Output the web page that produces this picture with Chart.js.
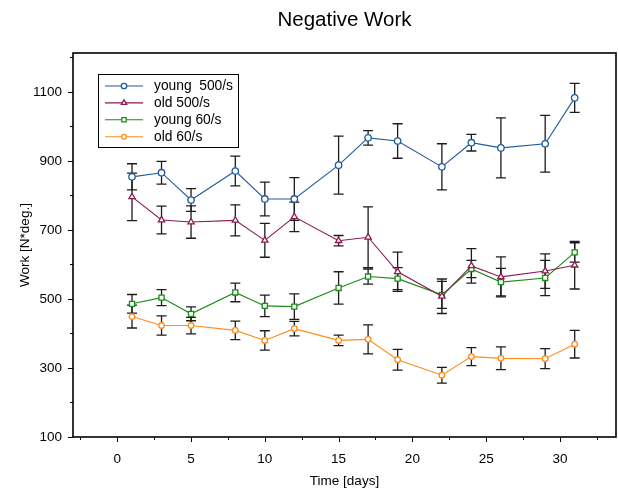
<!DOCTYPE html>
<html>
<head>
<meta charset="utf-8">
<script src="https://cdn.jsdelivr.net/npm/chart.js@4/dist/chart.umd.min.js"></script>
<style>
  html, body { margin: 0; padding: 0; background: #fff; }
  #wrap { width: 618px; height: 489px; }
</style>
</head>
<body>
<div id="wrap"><canvas id="c" width="618" height="489"></canvas></div>
<script>
const days = [1, 3, 5, 8, 10, 12, 15, 17, 19, 22, 24, 26, 29, 31];
const young500 = [854, 866, 787, 871, 790, 790, 888, 967, 958, 883, 953, 938, 950, 1083];
const young500Err = [38, 33, 33, 43, 49, 62, 84, 21, 50, 67, 24, 87, 82, 42];
const old500 = [796, 729, 723, 728, 670, 738, 669, 679, 579, 508, 596, 564, 581, 598];
const old500Err = [69, 40, 47, 45, 49, 43, 15, 88, 57, 50, 50, 58, 50, 69];
const young60 = [486, 504, 457, 519, 480, 478, 532, 565, 559, 512, 587, 549, 561, 635];
const young60Err = [27, 23, 20, 27, 31, 37, 47, 22, 32, 39, 25, 40, 51, 28];
const old60 = [449, 423, 423, 409, 380, 414, 380, 383, 324, 279, 333, 328, 327, 369];
const old60Err = [33, 28, 24, 27, 28, 21, 15, 42, 30, 23, 26, 33, 29, 40];

const seriesLabels = ['young  500/s', 'old 500/s', 'young 60/s', 'old 60/s'];
const xMajorTicks = [0, 5, 10, 15, 20, 25, 30];
const xMinorTicks = [-2.5, 2.5, 7.5, 12.5, 17.5, 22.5, 27.5, 32.5];
const yMajorTicks = [100, 300, 500, 700, 900, 1100];
const yMinorTicks = [200, 400, 600, 800, 1000, 1200];

const seriesValues = [young500, old500, young60, old60];
const seriesErrors = [young500Err, old500Err, young60Err, old60Err];
const seriesColors = ['#1f5c9e', '#8c1a52', '#1a8c1a', '#ff8c1a'];
const seriesStyles = ['circle', 'triangle', 'rect', 'circle'];
const seriesRadius = [3.2, 3.6, 3.6, 2.8];

const FONT = '"Liberation Sans", Arial, Helvetica, sans-serif';

const datasets = seriesValues.map((vals, i) => ({
  label: seriesLabels[i],
  data: days.map((d, j) => ({ x: d, y: vals[j] })),
  borderColor: seriesColors[i],
  backgroundColor: seriesColors[i],
  borderWidth: 1.1,
  pointStyle: seriesStyles[i],
  pointRadius: seriesRadius[i],
  pointBorderWidth: 1.3,
  pointBackgroundColor: '#ffffff',
  pointBorderColor: seriesColors[i],
  tension: 0
}));

const errorBars = {
  id: 'errorBars',
  beforeDatasetsDraw(chart) {
    const { ctx, scales: { x, y } } = chart;
    ctx.save();
    ctx.strokeStyle = '#1c1c1c';
    ctx.lineWidth = 1.3;
    chart.data.datasets.forEach((ds, i) => {
      const errs = seriesErrors[i];
      ds.data.forEach((p, j) => {
        const px = x.getPixelForValue(p.x);
        const top = y.getPixelForValue(p.y + errs[j]);
        const bot = y.getPixelForValue(p.y - errs[j]);
        ctx.beginPath();
        ctx.moveTo(px, top); ctx.lineTo(px, bot);
        ctx.moveTo(px - 5, top); ctx.lineTo(px + 5, top);
        ctx.moveTo(px - 5, bot); ctx.lineTo(px + 5, bot);
        ctx.stroke();
      });
    });
    ctx.restore();
  }
};

const frameTicks = {
  id: 'frameTicks',
  afterDatasetsDraw(chart) {
    const { ctx, chartArea: a, scales: { x, y } } = chart;
    ctx.save();
    ctx.strokeStyle = '#000';
    ctx.lineWidth = 1;
    ctx.beginPath();
    xMajorTicks.forEach(v => { const px = Math.round(x.getPixelForValue(v)) + 0.5; ctx.moveTo(px, a.bottom); ctx.lineTo(px, a.bottom + 5); });
    xMinorTicks.forEach(v => { const px = Math.round(x.getPixelForValue(v)) + 0.5; ctx.moveTo(px, a.bottom); ctx.lineTo(px, a.bottom + 3); });
    yMajorTicks.forEach(v => { const py = Math.round(y.getPixelForValue(v)) + 0.5; ctx.moveTo(a.left, py); ctx.lineTo(a.left - 5, py); });
    yMinorTicks.forEach(v => { const py = Math.round(y.getPixelForValue(v)) + 0.5; ctx.moveTo(a.left, py); ctx.lineTo(a.left - 3, py); });
    ctx.stroke();
    ctx.lineWidth = 1.6;
    ctx.strokeRect(a.left, a.top, a.right - a.left, a.bottom - a.top);
    ctx.restore();
  }
};

const boxLegend = {
  id: 'boxLegend',
  afterDatasetsDraw(chart) {
    const { ctx, chartArea: a } = chart;
    const bx = a.left + 25, by = a.top + 21, bw = 140, bh = 73;
    ctx.save();
    ctx.fillStyle = '#fff';
    ctx.fillRect(bx, by, bw, bh);
    ctx.strokeStyle = '#000';
    ctx.lineWidth = 1;
    ctx.strokeRect(bx + 0.5, by + 0.5, bw, bh);
    chart.data.datasets.forEach((ds, i) => {
      const ry = by + 12 + i * 16.9;
      ctx.strokeStyle = ds.borderColor;
      ctx.lineWidth = 1.1;
      ctx.beginPath();
      ctx.moveTo(bx + 7, ry); ctx.lineTo(bx + 45, ry);
      ctx.stroke();
      ctx.fillStyle = '#fff';
      ctx.strokeStyle = ds.pointBorderColor;
      ctx.lineWidth = 1.3;
      Chart.helpers.drawPoint(ctx, { pointStyle: ds.pointStyle, radius: ds.pointRadius * 0.85, rotation: 0, borderWidth: 1.3 }, bx + 26, ry);
      ctx.fillStyle = '#000';
      ctx.font = '13.8px ' + FONT;
      ctx.textBaseline = 'middle';
      ctx.textAlign = 'left';
      ctx.fillText(ds.label, bx + 56, ry + 0.5);
    });
    ctx.restore();
  }
};

new Chart(document.getElementById('c'), {
  type: 'line',
  data: { datasets },
  plugins: [errorBars, frameTicks, boxLegend],
  options: {
    responsive: false,
    animation: false,
    devicePixelRatio: 1,
    layout: { padding: { left: 0, right: 2, top: 0, bottom: 0 }, autoPadding: false },
    plugins: {
      legend: { display: false },
      tooltip: { enabled: false },
      title: {
        display: true,
        text: 'Negative Work',
        fullSize: false,
        color: '#000',
        font: { family: FONT, size: 20.5, weight: 'normal', lineHeight: 1.2 },
        padding: { top: 8, bottom: 20.4 }
      }
    },
    scales: {
      x: {
        type: 'linear',
        min: -3,
        max: 33.8,
        afterFit(scale) { scale.height = 52; },
        afterBuildTicks(scale) { scale.ticks = xMajorTicks.map(v => ({ value: v })); },
        grid: { display: false, drawTicks: false },
        border: { display: false },
        ticks: {
          color: '#000',
          padding: 14,
          maxRotation: 0,
          autoSkip: false,
          font: { family: FONT, size: 13.5 },
          callback: v => String(v)
        },
        title: {
          display: true,
          text: 'Time [days]',
          color: '#000',
          font: { family: FONT, size: 13.5 },
          padding: { top: 0, bottom: 0 }
        }
      },
      y: {
        type: 'linear',
        min: 100,
        max: 1213,
        afterFit(scale) { scale.width = 73; },
        afterBuildTicks(scale) { scale.ticks = yMajorTicks.map(v => ({ value: v })); },
        grid: { display: false, drawTicks: false },
        border: { display: false },
        ticks: {
          color: '#000',
          padding: 11,
          autoSkip: false,
          font: { family: FONT, size: 13.5 },
          callback: v => String(v)
        },
        title: {
          display: true,
          text: 'Work [N*deg.]',
          color: '#000',
          font: { family: FONT, size: 13.5 },
          padding: { top: 17, bottom: 0 }
        }
      }
    }
  }
});
</script>
</body>
</html>
